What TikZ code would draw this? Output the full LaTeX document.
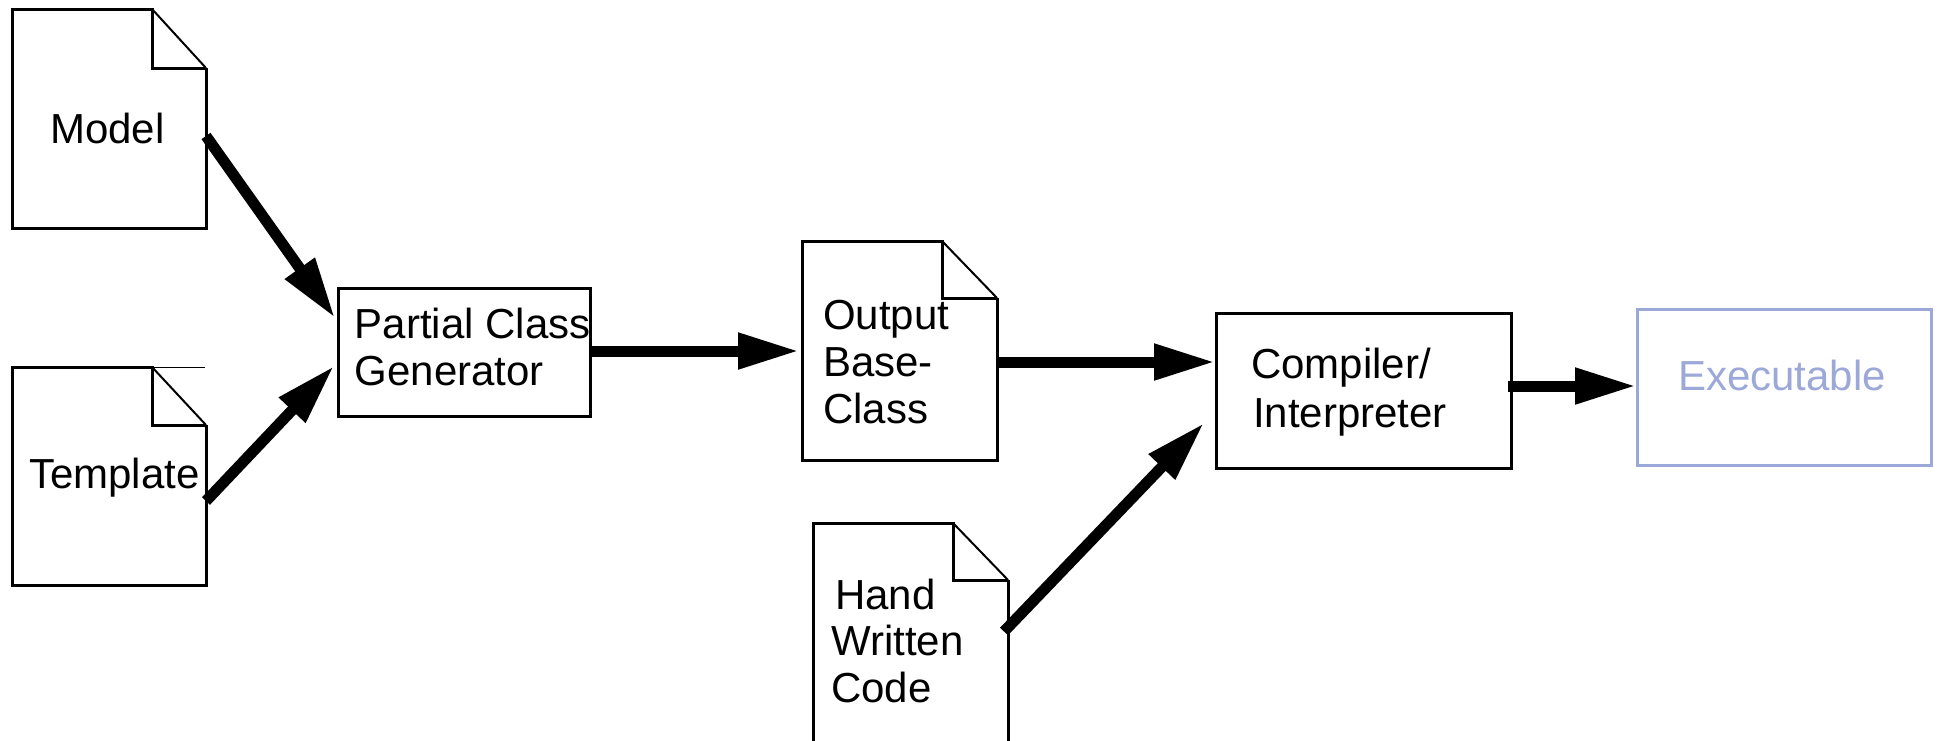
\documentclass[tikz,border=0pt]{standalone}
\usepackage{fontspec}
\setmainfont{Liberation Sans}
\usetikzlibrary{arrows.meta,calc}
\definecolor{exeblue}{RGB}{155,168,216}
\newcommand\docoutline[3]{%
  \draw[outline] ([yshift=-#3pt]#1.north east) -- (#1.south east) -- (#1.south west) -- (#1.north west) -- ([xshift=-#2pt]#1.north east) -- ([xshift=-#2pt,yshift=-#3pt]#1.north east) -- ([yshift=-#3pt]#1.north east);
  \draw[foldline] ([xshift=-#2pt]#1.north east) -- ([yshift=-#3pt]#1.north east);
}
\begin{document}
\begin{tikzpicture}[x=1pt,y=-1pt,
  doc/.style={rectangle, inner sep=0pt, outer sep=0pt},
  box/.style={draw, line width=3pt, rectangle, inner sep=0pt, outer sep=0pt},
  txt/.style={inner sep=0pt, anchor=base west, align=left, font=\fontsize{42}{47}\selectfont},
  arr/.style={line width=11pt, -{Triangle[length=61pt,width=34pt]}},
  outline/.style={line width=3pt, line join=miter},
  foldline/.style={line width=2pt}]
\useasboundingbox (0,0) rectangle (1939,740);
\clip (0,0) rectangle (1939,740);

% documents
\node[doc, minimum width=194pt, minimum height=219pt] (model) at (109,118.5) {};
\node[doc, minimum width=194pt, minimum height=218pt] (tpl) at (109,476) {};
\node[doc, minimum width=195pt, minimum height=219pt] (out) at (899.5,350.5) {};
\node[doc, minimum width=195pt, minimum height=257pt] (hand) at (910.5,651.5) {};
\docoutline{model}{54}{59}
\docoutline{tpl}{54}{58}
\draw[line width=1pt] ([xshift=-54pt]tpl.north east) -- ([xshift=-1pt]tpl.north east);
\docoutline{out}{55}{57}
\docoutline{hand}{55}{57}

% boxes
\node[box, minimum width=252pt, minimum height=128pt] (pcg) at (464,352) {};
\node[box, minimum width=295pt, minimum height=155pt] (comp) at (1363.5,390.5) {};
\node[box, draw=exeblue, minimum width=294pt, minimum height=156pt] (exe) at (1784,387) {};

% texts (multi-line nodes: base = last line)
\node[txt] (modeltxt) at (50,143) {Model};
\node[txt] (tpltxt) at (29,488) {Template};
\node[txt] (pcgtxt) at (354.5,385) {Partial Class\\Generator};
\node[txt, font=\fontsize{42}{47}\selectfont] (outtxt) at (823,423) {Output\\Base-\\Class};
\node[txt, font=\fontsize{42}{46.5}\selectfont] (handtxt) at (831,702) {\hspace*{4pt}Hand\\Written\\Code};
\node[txt, font=\fontsize{42}{49}\selectfont] (comptxt) at (1251,427) {Compiler/\\\hspace*{2pt}Interpreter};
\node[txt, text=exeblue] (exetxt) at (1678,390) {Executable};

% connectors
\draw[arr] ([yshift=-17.5pt]model.east) -- ([xshift=-3pt,yshift=34pt]pcg.west);
\draw[arr] ([yshift=-25pt]tpl.east) -- ([xshift=-4pt,yshift=-14pt]pcg.west);
\draw[arr] ([yshift=1pt]pcg.east) -- ([xshift=-3pt,yshift=-0.5pt]out.west);
\draw[arr] ([yshift=-11.5pt]out.east) -- ([xshift=-1pt,yshift=28.5pt]comp.west);
\draw[arr] ([xshift=-4pt,yshift=20pt]hand.east) -- ([xshift=-12pt,yshift=45pt]comp.south west);
\draw[arr] ([xshift=-3pt,yshift=4.5pt]comp.east) -- ([xshift=-1pt,yshift=1pt]exe.west);
\end{tikzpicture}
\end{document}
